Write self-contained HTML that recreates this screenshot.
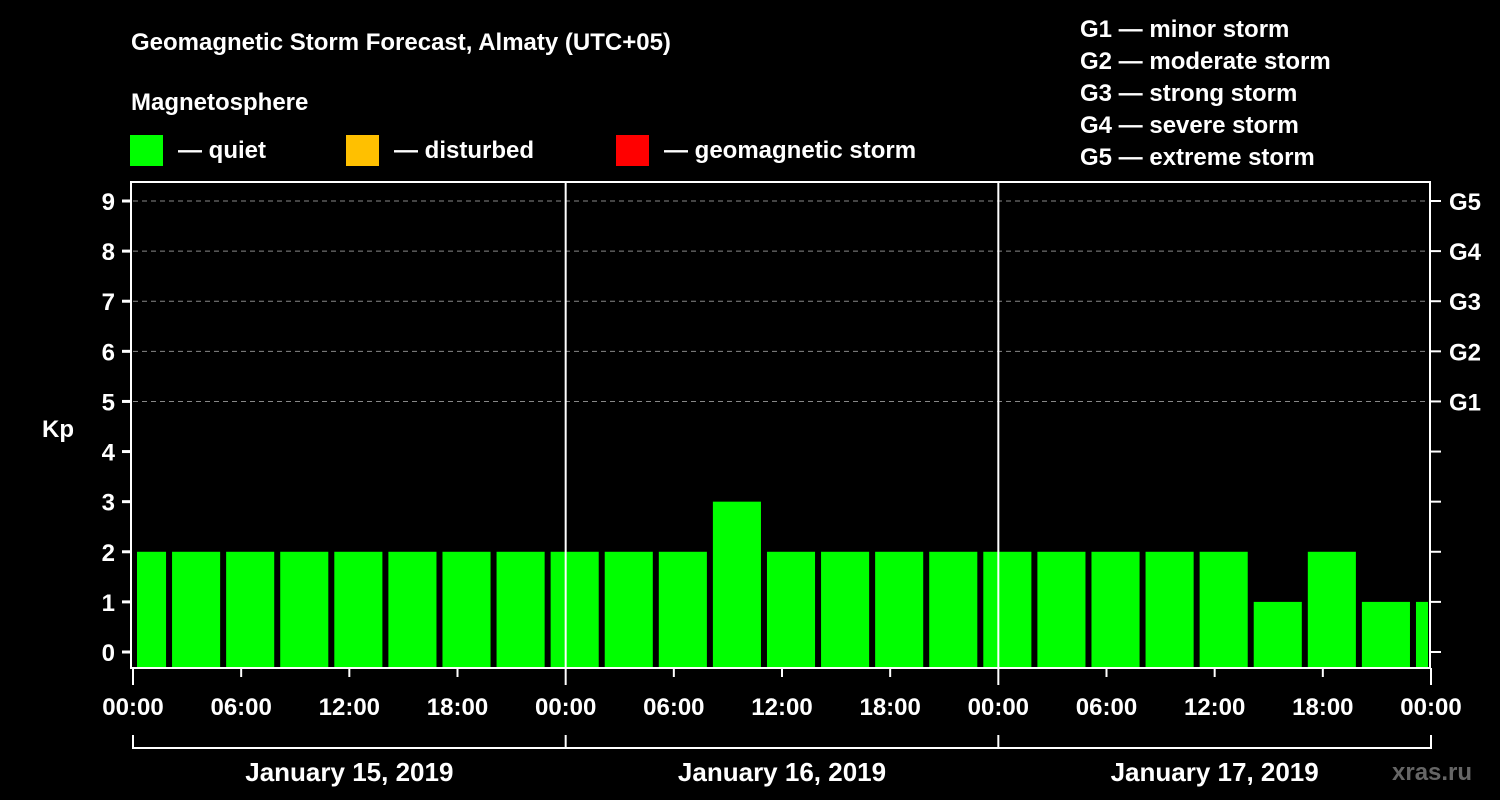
<!DOCTYPE html>
<html><head><meta charset="utf-8"><style>
html,body{margin:0;padding:0;background:#000;}
svg{display:block;font-family:"Liberation Sans",Arial,sans-serif;font-weight:bold;}
</style></head><body>
<svg id="chart" width="1500" height="800" viewBox="0 0 1500 800">
<text x="131" y="50" fill="#fff" font-size="24">Geomagnetic Storm Forecast, Almaty (UTC+05)</text>
<text x="131" y="110" fill="#fff" font-size="24">Magnetosphere</text>
<g>
<rect x="130" y="135" width="33" height="31" fill="#00ff00"/>
<text x="178" y="158" fill="#fff" font-size="24">— quiet</text>
<rect x="346" y="135" width="33" height="31" fill="#ffc000"/>
<text x="394" y="158" fill="#fff" font-size="24">— disturbed</text>
<rect x="616" y="135" width="33" height="31" fill="#ff0000"/>
<text x="664" y="158" fill="#fff" font-size="24">— geomagnetic storm</text>
</g>
<g fill="#fff" font-size="24">
<text x="1080" y="37">G1 — minor storm</text>
<text x="1080" y="69">G2 — moderate storm</text>
<text x="1080" y="101">G3 — strong storm</text>
<text x="1080" y="133">G4 — severe storm</text>
<text x="1080" y="165">G5 — extreme storm</text>
</g>
<text x="42" y="437" fill="#fff" font-size="24">Kp</text>
<g id="grid"></g>
<g id="bars"></g>
<g id="axes"></g>
<text x="1392" y="780" fill="#666" font-size="24">xras.ru</text>
</svg>
<script>
const startHours = [-1,2,5,8,11,14,17,20,23,26,29,32,35,38,41,44,47,50,53,56,59,62,65,68,71];
const kpValues = [2,2,2,2,2,2,2,2,2,2,2,3,2,2,2,2,2,2,2,2,2,1,2,1,1];
const yTicks = [0,1,2,3,4,5,6,7,8,9];
const gLabels = ["G1","G2","G3","G4","G5"];
const gLevels = [5,6,7,8,9];
const timeLabels = ["00:00","06:00","12:00","18:00","00:00","06:00","12:00","18:00","00:00","06:00","12:00","18:00","00:00"];
const dayLabels = ["January 15, 2019","January 16, 2019","January 17, 2019"];

const NS="http://www.w3.org/2000/svg";
const X0=133, X1=1431, TOP=182, BOT=668;
const xs=h=>X0+h*(X1-X0)/72;
const ys=k=>652-k*(652-201)/9;
function mk(tag,attrs,parent){const e=document.createElementNS(NS,tag);for(const k in attrs)e.setAttribute(k,attrs[k]);parent.appendChild(e);return e;}
const grid=document.getElementById('grid'),bars=document.getElementById('bars'),axes=document.getElementById('axes');

gLevels.forEach((lv,i)=>{
  const l=mk('line',{x1:X0,x2:X1,y1:ys(lv),y2:ys(lv),stroke:'#888','stroke-dasharray':'5,4','stroke-width':1},grid);
  
  
  const t=mk('text',{x:1449,y:ys(lv)+9,fill:'#fff','font-size':24},axes);
  t.textContent=gLabels[i];
  
  
});

startHours.forEach((h,i)=>{
  const k=kpValues[i];
  let a=xs(h)+3,b=xs(h+3)-3;
  a=Math.max(a,X0+4);b=Math.min(b,X1-3);
  const c=k>=5?'#ff0000':(k>=4?'#ffc000':'#00ff00');
  const r=mk('rect',{x:a,y:ys(k),width:b-a,height:BOT-ys(k),fill:c},bars);
  
  
});

[24,48].forEach(h=>{
  const l=mk('line',{x1:xs(h),x2:xs(h),y1:TOP,y2:BOT,stroke:'#fff','stroke-width':2},axes);
  
  
});
const fr=mk('rect',{x:X0-2,y:TOP,width:X1-X0+1,height:BOT-TOP,fill:'none',stroke:'#fff','stroke-width':2},axes);



yTicks.forEach(k=>{
  const y=ys(k);
  const tl=mk('line',{x1:X0-11,x2:X0-2,y1:y,y2:y,stroke:'#fff','stroke-width':3},axes);
  
  
  const tr=mk('line',{x1:X1,x2:X1+10,y1:y,y2:y,stroke:'#fff','stroke-width':2},axes);
  
  
  const t=mk('text',{x:X0-18,y:y+9,fill:'#fff','font-size':24,'text-anchor':'end'},axes);
  t.textContent=k;
  
  
});

timeLabels.forEach((lab,i)=>{
  const h=i*6, x=xs(h);
  const major=h%24===0;
  const tk=mk('line',{x1:x,x2:x,y1:BOT,y2:major?685:677,stroke:'#fff','stroke-width':2},axes);
  
  
  const t=mk('text',{x:x,y:715,fill:'#fff','font-size':24,'text-anchor':'middle'},axes);
  t.textContent=lab;
  
  
});

const br=mk('line',{x1:xs(0),x2:xs(72),y1:748,y2:748,stroke:'#fff','stroke-width':2},axes);


[0,24,48,72].forEach(h=>{
  const v=mk('line',{x1:xs(h),x2:xs(h),y1:735,y2:749,stroke:'#fff','stroke-width':2},axes);
  
  
});
dayLabels.forEach((d,i)=>{
  const t=mk('text',{x:xs(i*24+12),y:781,fill:'#fff','font-size':26,'text-anchor':'middle'},axes);
  t.textContent=d;
  
  
});
</script>
</body></html>
